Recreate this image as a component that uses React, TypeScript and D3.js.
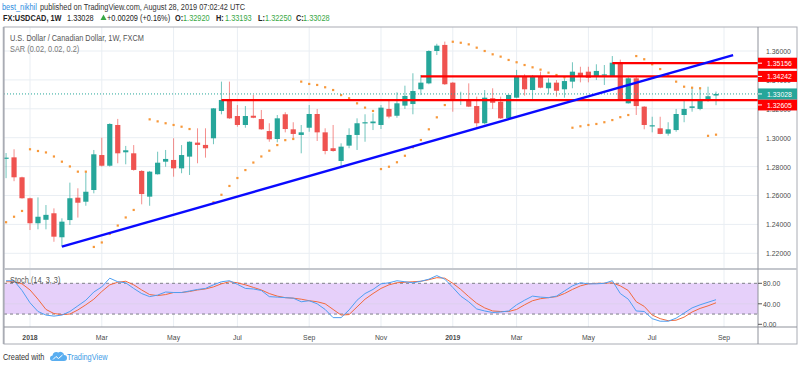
import { useEffect, useRef } from 'react'
import * as d3 from 'd3'

// weekly bars, FX:USDCAD 1W (first and last week, Monday dates)
const FIRST_WEEK = '2017-12-11'
const LAST_WEEK = '2019-08-26'

const OPEN = [
  1.2855, 1.2864, 1.2726, 1.2581, 1.2408, 1.2432, 1.2477, 1.2311, 1.2430, 1.2585,
  1.2557, 1.2638, 1.2880, 1.2806, 1.3088, 1.2899, 1.2892, 1.2770, 1.2592, 1.2747,
  1.2834, 1.2846, 1.2788, 1.2869, 1.2966, 1.2950, 1.2996, 1.3185, 1.3261, 1.3150,
  1.3088, 1.3152, 1.3129, 1.3046, 1.2991, 1.3162, 1.3058, 1.3019, 1.3069, 1.3164,
  1.3037, 1.2927, 1.2839, 1.2945, 1.3019, 1.3102, 1.3100, 1.3088, 1.3199, 1.3152,
  1.3222, 1.3233, 1.3335, 1.3376, 1.3600, 1.3642, 1.3381, 1.3259, 1.3266, 1.3219,
  1.3100, 1.3273, 1.3249, 1.3134, 1.3277, 1.3427, 1.3330, 1.3422, 1.3342, 1.3381,
  1.3335, 1.3388, 1.3450, 1.3457, 1.3422, 1.3433, 1.3427, 1.3519, 1.3238, 1.3411,
  1.3215, 1.3081, 1.3065, 1.3028, 1.3053, 1.3157, 1.3206, 1.3199, 1.3268, 1.3292,
]
const HIGH = [
  1.2894, 1.2920, 1.2730, 1.2585, 1.2587, 1.2534, 1.2511, 1.2442, 1.2689, 1.2650,
  1.2765, 1.2915, 1.3000, 1.3100, 1.3130, 1.2943, 1.2949, 1.2775, 1.2770, 1.2903,
  1.2915, 1.2996, 1.2949, 1.2975, 1.3065, 1.3065, 1.3205, 1.3388, 1.3388, 1.3226,
  1.3219, 1.3296, 1.3192, 1.3100, 1.3157, 1.3176, 1.3107, 1.3088, 1.3226, 1.3199,
  1.3065, 1.3088, 1.2961, 1.3065, 1.3134, 1.3162, 1.3169, 1.3226, 1.3261, 1.3314,
  1.3360, 1.3446, 1.3434, 1.3605, 1.3650, 1.3665, 1.3385, 1.3318, 1.3376, 1.3284,
  1.3330, 1.3342, 1.3284, 1.3299, 1.3469, 1.3439, 1.3434, 1.3457, 1.3411, 1.3399,
  1.3411, 1.3522, 1.3491, 1.3491, 1.3508, 1.3503, 1.3565, 1.3540, 1.3422, 1.3422,
  1.3218, 1.3145, 1.3145, 1.3107, 1.3199, 1.3261, 1.3346, 1.3346, 1.3353, 1.33193,
]
const LOW = [
  1.2720, 1.2699, 1.2578, 1.2361, 1.2366, 1.2366, 1.2280, 1.2246, 1.2396, 1.2447,
  1.2529, 1.2615, 1.2800, 1.2800, 1.2823, 1.2816, 1.2772, 1.2539, 1.2529, 1.2745,
  1.2799, 1.2730, 1.2754, 1.2742, 1.2823, 1.2862, 1.2955, 1.3162, 1.3130, 1.3076,
  1.3069, 1.3135, 1.3055, 1.2972, 1.2968, 1.3037, 1.2991, 1.2892, 1.3041, 1.2977,
  1.2885, 1.2903, 1.2798, 1.2927, 1.2915, 1.2972, 1.3053, 1.3060, 1.3134, 1.3138,
  1.3199, 1.3162, 1.3295, 1.3370, 1.3572, 1.3365, 1.3180, 1.3226, 1.3212, 1.3076,
  1.3093, 1.3199, 1.3130, 1.3130, 1.3273, 1.3291, 1.3268, 1.3342, 1.3300, 1.3284,
  1.3277, 1.3342, 1.3383, 1.3383, 1.3399, 1.3365, 1.3425, 1.3262, 1.3236, 1.3157,
  1.3058, 1.3037, 1.3024, 1.3014, 1.3041, 1.3107, 1.3180, 1.3190, 1.3249, 1.32250,
]
const CLOSE = [
  1.2862, 1.2726, 1.2581, 1.2408, 1.2453, 1.2466, 1.2315, 1.2419, 1.2581, 1.2550,
  1.2626, 1.2885, 1.2806, 1.3095, 1.2892, 1.2913, 1.2777, 1.2610, 1.2765, 1.2827,
  1.2853, 1.2788, 1.2880, 1.2972, 1.2950, 1.2927, 1.3203, 1.3261, 1.3134, 1.3088,
  1.3150, 1.3138, 1.3058, 1.2989, 1.3134, 1.3060, 1.3026, 1.3037, 1.3164, 1.3037,
  1.2908, 1.2908, 1.2938, 1.3019, 1.3100, 1.3107, 1.3112, 1.3208, 1.3146, 1.3238,
  1.3289, 1.3323, 1.3381, 1.3600, 1.3637, 1.3370, 1.3261, 1.3268, 1.3215, 1.3100,
  1.3277, 1.3242, 1.3134, 1.3296, 1.3422, 1.3335, 1.3422, 1.3346, 1.3381, 1.3325,
  1.3392, 1.3457, 1.3427, 1.3415, 1.3462, 1.3438, 1.3519, 1.3266, 1.3411, 1.3219,
  1.3088, 1.3086, 1.3026, 1.3058, 1.3164, 1.3199, 1.3217, 1.3261, 1.3287, 1.33028,
]
// Parabolic SAR (0.02, 0.02, 0.2), null where no dot shows
const SAR = [
  1.2415, 1.2453, 1.2493, 1.2920, 1.2908, 1.2898, 1.2870, 1.2834, 1.2801, 1.2765,
  1.2765, 1.2244, 1.2275, 1.2334, 1.2392, 1.2448, 1.2500, null, 1.3127, 1.3113,
  1.3100, 1.3088, 1.3076, 1.3060, null, null, 1.2553, 1.2605, 1.2666, 1.2721,
  1.2776, 1.2828, 1.2870, 1.2910, 1.2949, 1.2983, 1.2991, 1.3388, 1.3372, 1.3365,
  1.3349, 1.3330, 1.3295, 1.3273, 1.3238, 1.3208, 1.3185, 1.2783, 1.2799, 1.2830,
  1.2875, 1.2934, 1.2984, 1.3058, 1.3141, 1.3226, 1.3664, 1.3657, 1.3646, 1.3623,
  1.3600, 1.3577, 1.3561, 1.3538, 1.3522, 1.3503, 1.3487, 1.3471, 1.3450, 1.3434,
  1.3418, 1.3069, 1.3079, 1.3088, 1.3095, 1.3107, 1.3122, 1.3142, 1.3157, 1.3565,
  1.3543, 1.3508, 1.3475, 1.3434, 1.3388, 1.3353, 1.3346, 1.3342, 1.3013, 1.3021,
]
// Stoch (14, 3, 3)
const STOCH_K = [
  85, 85, 66, 42, 25, 18, 16, 18, 25, 36,
  47, 63, 73, 90, 83, 81, 70, 60, 54, 57,
  63, 62, 62, 65, 68, 70, 77, 83, 85, 78,
  70, 69, 66, 54, 53, 52, 51, 44, 46, 40,
  29, 13, 13, 28, 47, 60, 68, 79, 81, 85,
  83, 81, 84, 88, 95, 88, 72, 55, 44, 30,
  26, 23, 24, 26, 38, 47, 55, 53, 52, 55,
  65, 75, 81, 79, 79, 80, 85, 60, 49, 26,
  25, 11, 6, 6, 12, 22, 32, 38, 43, 48,
]
const STOCH_D = [
  83, 83, 79, 67, 49, 29, 21, 19, 20, 28,
  38, 49, 64, 77, 82, 84, 77, 67, 58, 56,
  58, 62, 62, 64, 67, 69, 73, 79, 83, 81,
  77, 72, 67, 60, 55, 52, 51, 49, 46, 44,
  40, 29, 18, 19, 34, 49, 60, 70, 77, 81,
  82, 83, 84, 87, 91, 90, 80, 68, 54, 41,
  32, 26, 25, 25, 29, 38, 46, 50, 52, 54,
  60, 68, 75, 79, 80, 80, 81, 75, 66, 44,
  35, 18, 11, 7, 8, 14, 24, 31, 36, 42,
]

const PRICE_TICKS = [1.22, 1.24, 1.26, 1.28, 1.3, 1.32, 1.34, 1.36]
const STOCH_TICKS = [0, 40, 80]
const STOCH_BAND = [20, 80]
const MONTH_TICKS = [
  '2018-01-01', '2018-03-05', '2018-05-07', '2018-07-02', '2018-09-03', '2018-11-05',
  '2019-01-07', '2019-03-04', '2019-05-06', '2019-07-01', '2019-09-02',
]
const MONTH_LABELS = ['2018', 'Mar', 'May', 'Jul', 'Sep', 'Nov', '2019', 'Mar', 'May', 'Jul', 'Sep']

// drawn levels and trend line
const LEVELS = [1.35156, 1.34242, 1.32605]
const LEVEL_FROM = ['2019-05-27', '2018-12-10', '2018-06-18']
const TREND_DATES = ['2018-01-29', '2019-09-10']
const TREND_PRICES = [1.2246, 1.3572]
const LAST_PRICE = 1.33028

const FONT = '"Liberation Sans", Arial, sans-serif'
const UP = '#26a69a'
const DOWN = '#ef5350'
const GRID = '#e9eef3'
const BORDER = '#a9acb4'

const W = 800
const H = 368
const L = 4
const R = 758
const AX_R = 797
const MAIN_T = 27
const MAIN_B = 268
const STO_T = 270
const STO_B = 327
const TIME_B = 344

function txt(g, x, y, s, o: any = {}) {
  const t = g
    .append('text')
    .attr('transform', `translate(${x},${y}) scale(${o.sq ?? 0.86},1)`)
    .attr('font-family', FONT)
    .attr('font-size', o.size ?? 8)
    .attr('font-weight', o.weight ?? 400)
    .attr('fill', o.fill ?? '#4a4a4a')
    .attr('text-anchor', o.anchor ?? 'start')
  if (s != null) t.text(s)
  return t
}

export default function App() {
  const ref = useRef<SVGSVGElement>(null)

  useEffect(() => {
    if (!ref.current) return
    const svg = d3.select(ref.current)
    svg.selectAll('*').remove()

    const parse = d3.utcParse('%Y-%m-%d')
    const weeks = d3.utcMonday.range(parse(FIRST_WEEK), d3.utcDay.offset(parse(LAST_WEEK), 1))
    const bars = weeks.map((d, i) => ({
      date: d,
      o: OPEN[i],
      h: HIGH[i],
      l: LOW[i],
      c: CLOSE[i],
      sar: SAR[i],
      k: STOCH_K[i],
      dd: STOCH_D[i],
    }))

    const x = d3
      .scaleUtc()
      .domain([parse(FIRST_WEEK), parse('2019-09-02')])
      .range([6.07, 724])
    const y = d3.scaleLinear().domain([1.22, 1.36]).range([253.3, 51])
    const ys = d3.scaleLinear().domain([0, 80]).range([324.3, 283.3])

    svg.append('rect').attr('width', W).attr('height', H).attr('fill', '#fff')

    const defs = svg.append('defs')
    defs.append('clipPath').attr('id', 'clip-main')
      .append('rect').attr('x', L).attr('y', MAIN_T).attr('width', R - L).attr('height', MAIN_B - MAIN_T)
    defs.append('clipPath').attr('id', 'clip-sto')
      .append('rect').attr('x', L).attr('y', STO_T).attr('width', R - L).attr('height', STO_B - STO_T)

    // grid
    const grid = svg.append('g')
    grid.selectAll('line.h')
      .data(PRICE_TICKS)
      .join('line')
      .attr('x1', L).attr('x2', R)
      .attr('y1', (d) => y(d)).attr('y2', (d) => y(d))
      .attr('stroke', GRID)
    MONTH_TICKS.forEach((m) => {
      const xx = x(parse(m))
      grid.append('line').attr('x1', xx).attr('x2', xx).attr('y1', MAIN_T).attr('y2', MAIN_B).attr('stroke', GRID)
      grid.append('line').attr('x1', xx).attr('x2', xx).attr('y1', STO_T).attr('y2', STO_B).attr('stroke', GRID)
    })

    // stoch background
    const sto = svg.append('g').attr('clip-path', 'url(#clip-sto)')
    sto.append('rect')
      .attr('x', L).attr('width', R - L)
      .attr('y', ys(0) - 1).attr('height', ys(STOCH_BAND[0]) - ys(0) + 1)
      .attr('fill', '#eef3f8')
    sto.append('rect')
      .attr('x', L).attr('width', R - L)
      .attr('y', ys(STOCH_BAND[1])).attr('height', ys(STOCH_BAND[0]) - ys(STOCH_BAND[1]))
      .attr('fill', '#e6d0fa')
    sto.append('line').attr('x1', L).attr('x2', R).attr('y1', ys(40)).attr('y2', ys(40)).attr('stroke', '#ddd0ee')
    STOCH_BAND.forEach((v) => {
      sto.append('line')
        .attr('x1', L).attr('x2', R).attr('y1', ys(v)).attr('y2', ys(v))
        .attr('stroke', '#7d7f88').attr('stroke-dasharray', '3,3')
    })

    const main = svg.append('g').attr('clip-path', 'url(#clip-main)')

    // candles
    main.selectAll('line.wick')
      .data(bars)
      .join('line')
      .attr('x1', (d) => x(d.date)).attr('x2', (d) => x(d.date))
      .attr('y1', (d) => y(d.h)).attr('y2', (d) => y(d.l))
      .attr('stroke', (d) => (d.c >= d.o ? UP : DOWN))
      .attr('stroke-opacity', 0.65)
      .attr('stroke-width', 1)
    main.selectAll('rect.body')
      .data(bars)
      .join('rect')
      .attr('x', (d) => x(d.date) - 2.6)
      .attr('width', 5.2)
      .attr('y', (d) => y(Math.max(d.o, d.c)))
      .attr('height', (d) => Math.max(1.2, Math.abs(y(d.o) - y(d.c))))
      .attr('fill', (d) => (d.c >= d.o ? UP : DOWN))

    // SAR
    main.selectAll('rect.sar')
      .data(bars.filter((d) => d.sar != null))
      .join('rect')
      .attr('x', (d) => x(d.date) - 1.1)
      .attr('y', (d) => y(d.sar) - 1.1)
      .attr('width', 2.2)
      .attr('height', 2.2)
      .attr('fill', '#f7983a')

    // last price
    main.append('line')
      .attr('x1', L).attr('x2', R).attr('y1', y(LAST_PRICE)).attr('y2', y(LAST_PRICE))
      .attr('stroke', UP).attr('stroke-dasharray', '1,2').attr('stroke-width', 1)

    // horizontal levels
    LEVELS.forEach((v, i) => {
      main.append('line')
        .attr('x1', x(parse(LEVEL_FROM[i]))).attr('x2', R)
        .attr('y1', y(v)).attr('y2', y(v))
        .attr('stroke', '#ff0000').attr('stroke-width', 2.3)
    })

    // trend line
    main.append('line')
      .attr('x1', x(parse(TREND_DATES[0]))).attr('y1', y(TREND_PRICES[0]))
      .attr('x2', x(parse(TREND_DATES[1]))).attr('y2', y(TREND_PRICES[1]))
      .attr('stroke', '#0a0aff').attr('stroke-width', 2.4)

    // stoch lines
    const lineK = d3.line<any>().x((d) => x(d.date)).y((d) => ys(d.k))
    const lineD = d3.line<any>().x((d) => x(d.date)).y((d) => ys(d.dd))
    sto.append('path').attr('d', lineD(bars)).attr('fill', 'none').attr('stroke', '#f26a3d').attr('stroke-width', 1)
    sto.append('path').attr('d', lineK(bars)).attr('fill', 'none').attr('stroke', '#4f9ff2').attr('stroke-width', 1)

    // frame
    const frame = svg.append('g').attr('fill', 'none')
    frame.append('rect').attr('x', L).attr('y', MAIN_T).attr('width', AX_R - L).attr('height', TIME_B - MAIN_T)
      .attr('stroke', BORDER)
    frame.append('line').attr('x1', L - 0.5).attr('x2', L - 0.5).attr('y1', MAIN_T).attr('y2', TIME_B)
      .attr('stroke', BORDER).attr('stroke-width', 1.5)
    frame.append('rect').attr('x', L).attr('y', MAIN_B).attr('width', AX_R - L).attr('height', STO_T - MAIN_B)
      .attr('fill', '#c4c7cd')
    frame.append('line').attr('x1', L).attr('x2', AX_R).attr('y1', STO_B).attr('y2', STO_B).attr('stroke', '#8f929b')
    frame.append('line').attr('x1', R).attr('x2', R).attr('y1', MAIN_T).attr('y2', TIME_B).attr('stroke', '#8f929b')

    // price axis
    const ax = svg.append('g')
    PRICE_TICKS.forEach((v) => {
      txt(ax, 766, y(v) + 2.9, d3.format('.5f')(v), { fill: '#4a4a4a' })
    })
    STOCH_TICKS.forEach((v) => {
      ax.append('line').attr('x1', R).attr('x2', R + 4).attr('y1', ys(v)).attr('y2', ys(v)).attr('stroke', '#555')
      txt(ax, 763, ys(v) + 2.9, d3.format('.2f')(v), { fill: '#4a4a4a' })
    })

    const boxH = 11
    const lastY = y(LAST_PRICE)
    const priceBox = (cy, v, color) => {
      ax.append('rect').attr('x', R).attr('y', cy - boxH / 2).attr('width', AX_R - R).attr('height', boxH).attr('fill', color)
      ax.append('line').attr('x1', R).attr('x2', R + 4).attr('y1', cy).attr('y2', cy).attr('stroke', '#fff')
      txt(ax, 767, cy + 2.9, d3.format('.5f')(v), { fill: '#fff' })
    }
    LEVELS.forEach((v) => {
      let cy = y(v)
      if (Math.abs(cy - lastY) < boxH) cy = cy > lastY ? lastY + boxH : lastY - boxH
      priceBox(cy, v, '#ff0000')
    })
    priceBox(lastY, LAST_PRICE, UP)

    // time axis
    MONTH_TICKS.forEach((m, i) => {
      const bold = /^\d{4}$/.test(MONTH_LABELS[i])
      txt(ax, x(parse(m)), 340, MONTH_LABELS[i], {
        anchor: 'middle',
        weight: bold ? 700 : 400,
        fill: '#4a4a4a',
      })
    })

    // header
    const head = svg.append('g')
    txt(head, 2, 9.5, 'best_nikhil', { size: 9, sq: 0.82, fill: '#2a8de0' })
    txt(head, 40, 9.5, 'published on TradingView.com, August 28, 2019 07:02:42 UTC', { size: 9, sq: 0.82, fill: '#333' })
    const green = '#38a845'
    const seg = [
      [3, 'FX:USDCAD, 1W', 700, '#222'],
      [67, '1.33028', 400, '#222'],
      [107, '+0.00209 (+0.16%)', 400, '#222'],
      [175, 'O:', 700, '#222'],
      [183, '1.32920', 400, green],
      [216, 'H:', 700, '#222'],
      [225, '1.33193', 400, green],
      [258, 'L:', 700, '#222'],
      [265, '1.32250', 400, green],
      [296, 'C:', 700, '#222'],
      [303, '1.33028', 400, green],
    ]
    seg.forEach(([sx, s, wt, col]) => {
      txt(head, sx, 20.5, s, { size: 9, sq: 0.82, weight: wt, fill: col })
    })
    head.append('path').attr('d', 'M100.5,20 L103.5,14.5 L106.5,20 Z').attr('fill', green)

    // legends
    txt(head, 10, 40.5, 'U.S. Dollar / Canadian Dollar, 1W, FXCM', { size: 9, sq: 0.82, fill: '#555' })
    txt(head, 10, 52, 'SAR (0.02, 0.02, 0.2)', { size: 9, sq: 0.82, fill: '#777' })
    txt(head, 10, 283, 'Stoch (14, 3, 3)', { size: 9, sq: 0.82, fill: '#555' })

    // footer
    txt(head, 3, 360, 'Created with', { size: 9, sq: 0.82, fill: '#333' })
    head.append('path')
      .attr('d', 'M52,361 L64,361 A3,3 0 0 0 64,355 A3.5,3.5 0 0 0 58.5,352.5 A4,4 0 0 0 52.5,355.5 A2.8,2.8 0 0 0 52,361 Z')
      .attr('fill', '#5aaef0')
    head.append('path')
      .attr('d', 'M53,359.5 L56,356.5 L58.5,358.5 L62.5,355')
      .attr('fill', 'none').attr('stroke', '#fff').attr('stroke-width', 1)
    txt(head, 67, 360, 'TradingView', { size: 9, sq: 0.82, fill: '#3d9be6' })
  }, [])

  return (
    <svg
      ref={ref}
      width={W}
      height={H}
      style={{ position: 'fixed', left: 0, top: 0, display: 'block' }}
    />
  )
}
